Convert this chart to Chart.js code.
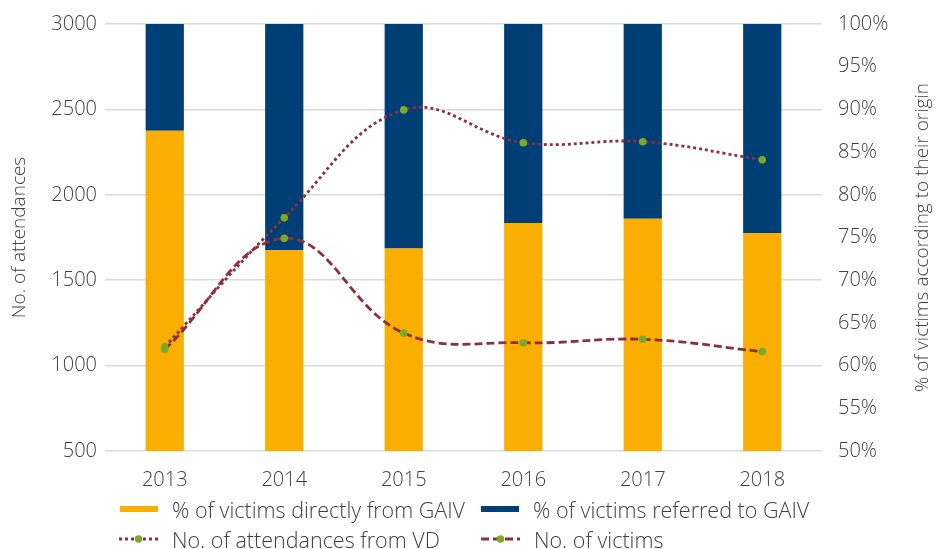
<!DOCTYPE html>
<html>
<head>
<meta charset="utf-8">
<script src="https://cdn.jsdelivr.net/npm/chart.js@4"></script>
<style>
  html, body { margin: 0; padding: 0; background: #fff; }
  #wrap { position: relative; width: 936px; height: 549px; }
  #legend { position: absolute; left: 0; top: 0; width: 936px; height: 549px; pointer-events: none;
    font-family: "Open Sans", sans-serif; font-weight: 300; font-size: 21.5px; color: #404040; }
  .item { position: absolute; display: flex; align-items: center; height: 28px; white-space: nowrap; }
  .item svg { margin-right: 14px; }
</style>
</head>
<body>
<div id="wrap">
  <canvas id="chart" width="936" height="549"></canvas>
  <div id="legend"></div>
</div>
<script>
const years = ["2013", "2014", "2015", "2016", "2017", "2018"];
// bars, right axis (%)
const pctDirect = [87.5, 73.5, 73.7, 76.7, 77.2, 75.5];
const pctReferred = [12.5, 26.5, 26.3, 23.3, 22.8, 24.5];
// lines, left axis
const attendancesVD = [1110, 1865, 2497, 2305, 2311, 2205];
const victims = [1095, 1745, 1190, 1134, 1154, 1082];
const leftTicks = [500, 1000, 1500, 2000, 2500, 3000];

const YELLOW = "#F9AE00";
const NAVY = "#003F75";
const RED = "#8C3040";
const GREEN = "#7BAA2A";
const TEXT = "#404040";
const FONT = { family: "'Open Sans', sans-serif", size: 20, weight: 300 };
const TITLE_FONT = { family: "'Open Sans', sans-serif", size: 19, weight: 300 };
const rightTitle = "% of victims according to their origin";
const DOTS = [3, 3];
const DASHES = [8, 4];

// right axis title reads bottom-to-top in the original, so draw it ourselves
const rightTitlePlugin = {
  id: "rightTitle",
  afterDraw(chart) {
    const c = chart.ctx, a = chart.chartArea;
    c.save();
    c.translate(923, (a.top + a.bottom) / 2);
    c.rotate(-Math.PI / 2);
    c.font = "300 19px 'Open Sans', sans-serif";
    c.fillStyle = TEXT;
    c.textAlign = "center";
    c.textBaseline = "middle";
    c.fillText(rightTitle, 0, 0);
    c.restore();
  }
};

// fixed sizes so the plot area sits where the original's does
const fitY = w => s => { s.width = w; s.paddingTop = 0; s.paddingBottom = 0; };

const ctx = document.getElementById("chart");
new Chart(ctx, {
  type: "bar",
  data: {
    labels: years,
    datasets: [
      {
        type: "line", label: "No. of attendances from VD", data: attendancesVD, yAxisID: "y",
        borderColor: RED, borderWidth: 2.8, borderDash: DOTS, tension: 0.4,
        pointRadius: 3.8, pointBackgroundColor: GREEN, pointBorderWidth: 0, order: 0
      },
      {
        type: "line", label: "No. of victims", data: victims, yAxisID: "y",
        borderColor: RED, borderWidth: 2.8, borderDash: DASHES, tension: 0.4,
        pointRadius: 3.8, pointBackgroundColor: GREEN, pointBorderWidth: 0, order: 0
      },
      {
        label: "% of victims directly from GAIV", data: pctDirect, yAxisID: "y1",
        backgroundColor: YELLOW, stack: "s", order: 1,
        categoryPercentage: 1, barPercentage: 0.32
      },
      {
        label: "% of victims referred to GAIV", data: pctReferred, yAxisID: "y1",
        backgroundColor: NAVY, stack: "s", order: 1,
        categoryPercentage: 1, barPercentage: 0.32
      }
    ]
  },
  options: {
    responsive: false,
    animation: false,
    layout: { padding: { top: 24, left: 0, right: 0, bottom: 0 } },
    plugins: { legend: { display: false }, tooltip: { enabled: false } },
    scales: {
      x: {
        stacked: true,
        grid: { display: false },
        border: { display: false },
        ticks: { color: TEXT, font: FONT, padding: 9 },
        afterFit: s => { s.height = 98; }
      },
      y: {
        position: "left",
        min: 500, max: 3000,
        afterBuildTicks: s => { s.ticks = leftTicks.map(v => ({ value: v })); },
        grid: { color: "#d9d9d9", lineWidth: 1.5, drawTicks: false },
        border: { display: false },
        ticks: { color: TEXT, font: FONT, padding: 8, callback: v => String(v) },
        title: { display: true, text: "No. of attendances", color: TEXT, font: TITLE_FONT, padding: { top: 8, bottom: 0 } },
        afterFit: fitY(105)
      },
      y1: {
        position: "right",
        stacked: true,
        min: 50, max: 100,
        grid: { display: false, drawTicks: false },
        border: { display: false },
        ticks: { stepSize: 5, color: TEXT, font: FONT, padding: 16, callback: v => v + "%" },
        afterFit: fitY(114)
      }
    }
  },
  plugins: [rightTitlePlugin]
});

// legend laid out as a 2x2 grid like the original
const legendItems = [
  { text: "% of victims directly from GAIV", kind: "bar", color: YELLOW, x: 120, y: 495 },
  { text: "% of victims referred to GAIV", kind: "bar", color: NAVY, x: 481, y: 495 },
  { text: "No. of attendances from VD", kind: "dot", x: 119, y: 525 },
  { text: "No. of victims", kind: "dash", x: 481, y: 525 }
];
const lg = document.getElementById("legend");
legendItems.forEach(it => {
  let sym;
  if (it.kind === "bar") {
    sym = `<svg width="38" height="10"><rect x="0" y="2" width="38" height="6" fill="${it.color}"/></svg>`;
  } else {
    const dash = (it.kind === "dot" ? DOTS : DASHES).join(" ");
    sym = `<svg width="39" height="12"><line x1="0" y1="6" x2="39" y2="6" stroke="${RED}" stroke-width="2.8" stroke-dasharray="${dash}"/>` +
          `<circle cx="19.5" cy="6" r="3.8" fill="${GREEN}"/></svg>`;
  }
  const d = document.createElement("div");
  d.className = "item";
  d.style.left = it.x + "px";
  d.style.top = it.y + "px";
  d.innerHTML = sym + "<span>" + it.text + "</span>";
  lg.appendChild(d);
});
</script>
</body>
</html>
